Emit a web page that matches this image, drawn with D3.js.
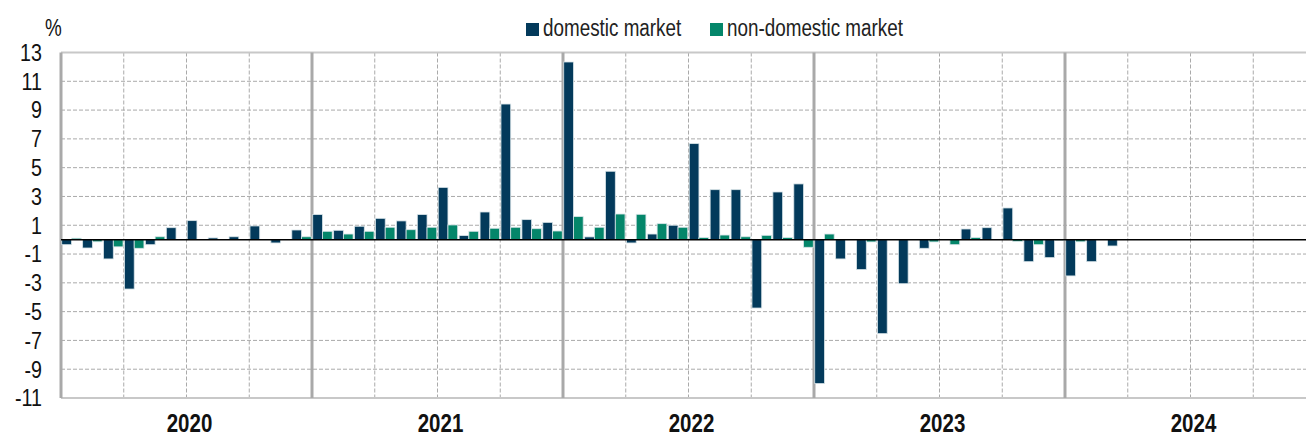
<!DOCTYPE html>
<html>
<head>
<meta charset="utf-8">
<script src="https://cdn.jsdelivr.net/npm/d3@7"></script>
<style>
  body { margin: 0; background: #fff; }
  text { font-family: "Liberation Sans", Arial, sans-serif; }
</style>
</head>
<body>
<div id="container"></div>
<script>
/* CONSTANTS AND GLOBALS */
const width = 1306,
  height = 436,
  margin = { top: 52.5, bottom: 38, left: 61, right: -10 };
const narrow = 0.82; // no narrow font installed, so squeeze the text horizontally

/* DATA */
const years = [2020, 2021, 2022, 2023, 2024];
const seriesNames = ["domestic market", "non-domestic market"];
const colors = ["#033a5b", "#04866a"];
const yTicks = [13, 11, 9, 7, 5, 3, 1, -1, -3, -5, -7, -9, -11];

// monthly % change, Jan 2020 - Mar 2024
const domestic = [
  -0.35, -0.58, -1.34, -3.43, -0.35, 0.83, 1.32, 0.12, 0.2, 0.95, -0.23, 0.67,   // 2020
  1.74, 0.65, 0.93, 1.48, 1.3, 1.74, 3.63, 0.28, 1.92, 9.42, 1.39, 1.2,          // 2021
  12.34, 0.19, 4.75, -0.23, 0.39, 1.0, 6.67, 3.47, 3.47, -4.75, 3.31, 3.87,      // 2022
  -10.0, -1.34, -2.08, -6.53, -3.06, -0.6, 0, 0.74, 0.83, 2.2, -1.53, -1.25,     // 2023
  -2.52, -1.53, -0.44                                                            // 2024
];
const nonDomestic = [
  0.1, -0.15, -0.5, -0.6, 0.2, 0, 0, 0, 0, 0, 0, 0.2,
  0.58, 0.39, 0.58, 0.86, 0.69, 0.86, 1.02, 0.58, 0.79, 0.86, 0.76, 0.6,
  1.6, 0.86, 1.78, 1.76, 1.11, 0.86, 0.14, 0.32, 0.2, 0.3, 0.14, -0.53,
  0.39, 0, -0.16, 0, 0, -0.16, -0.35, 0.14, 0, -0.12, -0.35, -0.05,
  -0.15, 0, 0
];

let xScale, xSub, yScale;

const data = [];
domestic.forEach((v, i) => {
  data.push({ month: i, series: 0, value: v });
  data.push({ month: i, series: 1, value: nonDomestic[i] });
});

/* SCALES */
const months = d3.range(years.length * 12);
xScale = d3.scaleBand()
  .domain(months)
  .range([margin.left, margin.left + 251 * years.length])
  .paddingInner(0.07)
  .paddingOuter(0.035);

xSub = d3.scaleBand()
  .domain([0, 1])
  .range([0, xScale.bandwidth()]);

yScale = d3.scaleLinear()
  .domain([-11, 13])
  .range([height - margin.bottom, margin.top]);

const step = xScale.step();
const xPos = m => margin.left + m * step; // left edge of month m

/* DRAW */
const svg = d3.select("#container")
  .append("svg")
  .attr("width", width)
  .attr("height", height);

const plotRight = margin.left + 251 * years.length;

// horizontal dashed grid
svg.append("g")
  .selectAll("line")
  .data(yTicks.filter(d => d > -11 && d < 13))
  .join("line")
  .attr("x1", margin.left)
  .attr("x2", plotRight)
  .attr("y1", d => yScale(d))
  .attr("y2", d => yScale(d))
  .attr("stroke", "#aaaaaa")
  .attr("stroke-width", 1)
  .attr("stroke-dasharray", "4,2");

// quarter dashed lines
svg.append("g")
  .selectAll("line")
  .data(months.filter(m => m % 3 === 0 && m % 12 !== 0))
  .join("line")
  .attr("x1", m => xPos(m))
  .attr("x2", m => xPos(m))
  .attr("y1", yScale(13))
  .attr("y2", yScale(-11))
  .attr("stroke", "#aaaaaa")
  .attr("stroke-width", 1)
  .attr("stroke-dasharray", "4,2");

// frame top / bottom
svg.append("g")
  .selectAll("line")
  .data([13, -11])
  .join("line")
  .attr("x1", margin.left)
  .attr("x2", width)
  .attr("y1", d => yScale(d))
  .attr("y2", d => yScale(d))
  .attr("stroke", "#c8c8c8")
  .attr("stroke-width", 2);

// year separators (solid)
svg.append("g")
  .selectAll("line")
  .data(years.map((y, i) => i * 12))
  .join("line")
  .attr("x1", m => xPos(m))
  .attr("x2", m => xPos(m))
  .attr("y1", yScale(13))
  .attr("y2", yScale(-11))
  .attr("stroke", "#a9a9a9")
  .attr("stroke-width", 3);

// bars
svg.append("g")
  .selectAll("rect")
  .data(data)
  .join("rect")
  .attr("x", d => xScale(d.month) + xSub(d.series))
  .attr("width", xSub.bandwidth())
  .attr("y", d => yScale(Math.max(0, d.value)))
  .attr("height", d => Math.abs(yScale(d.value) - yScale(0)))
  .attr("fill", d => colors[d.series])
  .attr("stroke", d => d.value === 0 ? "none" : "#d8e4e8")
  .attr("stroke-width", 0.8);

// zero line
svg.append("line")
  .attr("x1", margin.left)
  .attr("x2", width)
  .attr("y1", yScale(0))
  .attr("y2", yScale(0))
  .attr("stroke", "#000")
  .attr("stroke-width", 1.5);

// y tick labels
svg.append("g")
  .selectAll("text")
  .data(yTicks)
  .join("text")
  .attr("transform", d => `translate(42,${yScale(d)}) scale(${narrow},1)`)
  .attr("dy", "0.35em")
  .attr("text-anchor", "end")
  .attr("font-size", 24)
  .attr("fill", "#111")
  .text(d => d);

svg.append("text")
  .attr("transform", `translate(45,36) scale(${narrow},1)`)
  .attr("font-size", 23)
  .attr("fill", "#111")
  .text("%");

// year labels
svg.append("g")
  .selectAll("text")
  .data(years)
  .join("text")
  .attr("transform", (y, i) => `translate(${xPos(i * 12) + step * 6 + 3},432) scale(${narrow},1)`)
  .attr("text-anchor", "middle")
  .attr("font-size", 25)
  .attr("font-weight", "bold")
  .attr("fill", "#111")
  .text(d => d);

// legend
const legendX = [526, 710];
const legend = svg.append("g")
  .selectAll("g")
  .data(seriesNames)
  .join("g")
  .attr("transform", (d, i) => `translate(${legendX[i]},23)`);

legend.append("rect")
  .attr("width", 13)
  .attr("height", 13)
  .attr("fill", (d, i) => colors[i]);

legend.append("text")
  .attr("transform", `translate(17,13) scale(${narrow},1)`)
  .attr("font-size", 23)
  .attr("fill", "#222")
  .text(d => d);
</script>
</body>
</html>
